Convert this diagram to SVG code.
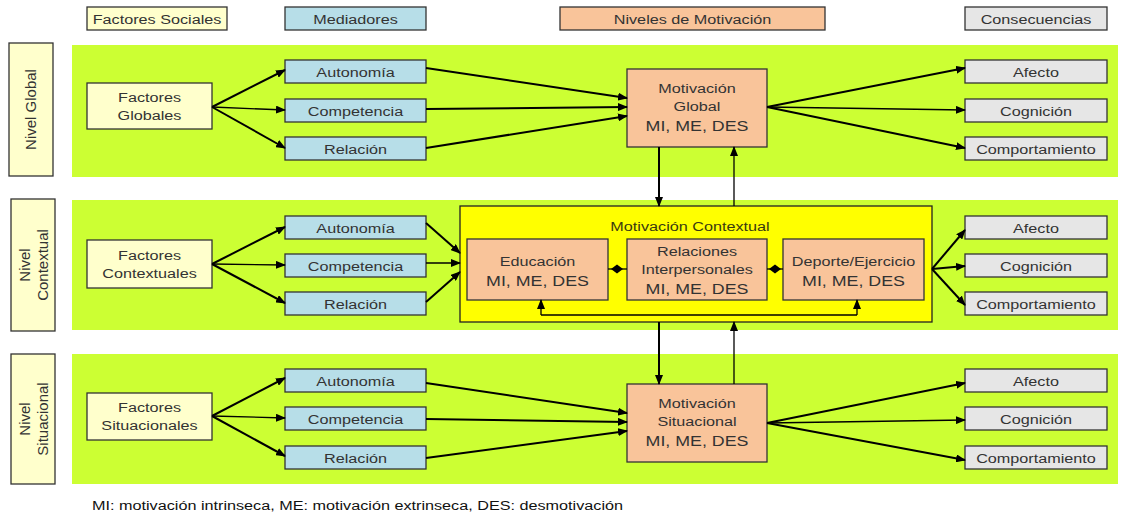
<svg xmlns="http://www.w3.org/2000/svg" width="1121" height="515" viewBox="0 0 1121 515">
<defs>
<marker id="ah" markerWidth="10" markerHeight="8" refX="9" refY="4" orient="auto" markerUnits="userSpaceOnUse"><path d="M0,0 L10,4 L0,8 Z" fill="#000"/></marker>
<style>
.band{fill:#CCFF33}
.box{stroke:#333;stroke-width:1.3}
.fs{fill:#FFFFCC}
.med{fill:#B7DEE8}
.mot{fill:#F9C49A}
.con{fill:#E6E6E6}
.yel{fill:#FFFF00;stroke:#222;stroke-width:1.3}
text{font-family:"Liberation Sans",Arial,sans-serif;font-size:13.5px;fill:#333;text-anchor:middle}
.big{font-size:15.5px}
.leg{text-anchor:start;fill:#111}
.c{fill:none;stroke:#000;stroke-width:2}
.t{fill:none;stroke:#000;stroke-width:1.3}
.dia{fill:#000}
</style>
</defs>

<g id="bands">
<rect class="band" x="72" y="45" width="1046" height="132"/>
<rect class="band" x="72" y="200" width="1046" height="130"/>
<rect class="band" x="72" y="354" width="1046" height="130"/>
</g>

<g id="header-factores-sociales"><rect class="box fs" x="87" y="7" width="140" height="23"/><text transform="translate(157 23.5) scale(1.2 1)">Factores Sociales</text></g>
<g id="header-mediadores"><rect class="box med" x="285" y="7" width="141" height="23"/><text transform="translate(355.5 23.5) scale(1.2 1)">Mediadores</text></g>
<g id="header-niveles"><rect class="box mot" x="560" y="7" width="265" height="23"/><text transform="translate(692.5 23.5) scale(1.2 1)">Niveles de Motivación</text></g>
<g id="header-consecuencias"><rect class="box con" x="965" y="7" width="142" height="23"/><text transform="translate(1036 23.5) scale(1.2 1)">Consecuencias</text></g>

<g id="label-global"><rect class="box fs" x="9" y="43" width="44" height="133"/><text transform="translate(36 109.5) rotate(-90)" style="font-size:15px">Nivel Global</text></g>
<g id="label-contextual"><rect class="box fs" x="11" y="199" width="44" height="132"/><text transform="translate(30 265) rotate(-90)" style="font-size:15px">Nivel</text><text transform="translate(48 265) rotate(-90)" style="font-size:15px">Contextual</text></g>
<g id="label-situacional"><rect class="box fs" x="11" y="354" width="44" height="130"/><text transform="translate(30 419) rotate(-90)" style="font-size:15px">Nivel</text><text transform="translate(48 419) rotate(-90)" style="font-size:15px">Situacional</text></g>

<!-- Global level -->
<g id="factores-globales"><rect class="box fs" x="87" y="83" width="125" height="46"/><text transform="translate(149.5 102) scale(1.2 1)">Factores</text><text transform="translate(149.5 120) scale(1.2 1)">Globales</text></g>
<g id="g-autonomia"><rect class="box med" x="285" y="60" width="141" height="23"/><text transform="translate(355.5 76.5) scale(1.2 1)">Autonomía</text></g>
<g id="g-competencia"><rect class="box med" x="285" y="99" width="141" height="23"/><text transform="translate(355.5 115.5) scale(1.2 1)">Competencia</text></g>
<g id="g-relacion"><rect class="box med" x="285" y="137" width="141" height="23"/><text transform="translate(355.5 153.5) scale(1.2 1)">Relación</text></g>
<g id="motivacion-global"><rect class="box mot" x="627" y="69" width="140" height="78"/><text transform="translate(697 93) scale(1.2 1)">Motivación</text><text transform="translate(697 111) scale(1.2 1)">Global</text><text class="big" transform="translate(697 131) scale(1.15 1)">MI, ME, DES</text></g>
<g id="g-afecto"><rect class="box con" x="965" y="60" width="142" height="23"/><text transform="translate(1036 76.5) scale(1.2 1)">Afecto</text></g>
<g id="g-cognicion"><rect class="box con" x="965" y="99" width="142" height="23"/><text transform="translate(1036 115.5) scale(1.2 1)">Cognición</text></g>
<g id="g-comportamiento"><rect class="box con" x="965" y="137" width="142" height="23"/><text transform="translate(1036 153.5) scale(1.2 1)">Comportamiento</text></g>

<!-- Contextual level -->
<g id="factores-contextuales"><rect class="box fs" x="87" y="240" width="125" height="48"/><text transform="translate(149.5 260) scale(1.2 1)">Factores</text><text transform="translate(149.5 278) scale(1.2 1)">Contextuales</text></g>
<g id="c-autonomia"><rect class="box med" x="285" y="216" width="141" height="23"/><text transform="translate(355.5 232.5) scale(1.2 1)">Autonomía</text></g>
<g id="c-competencia"><rect class="box med" x="285" y="254" width="141" height="23"/><text transform="translate(355.5 270.5) scale(1.2 1)">Competencia</text></g>
<g id="c-relacion"><rect class="box med" x="285" y="292" width="141" height="23"/><text transform="translate(355.5 308.5) scale(1.2 1)">Relación</text></g>
<g id="motivacion-contextual"><rect class="yel" x="460" y="206" width="472" height="116"/><text transform="translate(690 231) scale(1.2 1)" style="fill:#3a3a10">Motivación Contextual</text></g>
<g id="educacion"><rect class="box mot" x="467" y="239" width="141" height="61"/><text transform="translate(537.5 266) scale(1.2 1)">Educación</text><text class="big" transform="translate(537.5 286) scale(1.15 1)">MI, ME, DES</text></g>
<g id="relaciones"><rect class="box mot" x="627" y="239" width="140" height="61"/><text transform="translate(697 256) scale(1.2 1)">Relaciones</text><text transform="translate(697 274) scale(1.2 1)">Interpersonales</text><text class="big" transform="translate(697 294) scale(1.15 1)">MI, ME, DES</text></g>
<g id="deporte"><rect class="box mot" x="783" y="239" width="141" height="61"/><text transform="translate(853.5 266) scale(1.2 1)">Deporte/Ejercicio</text><text class="big" transform="translate(853.5 286) scale(1.15 1)">MI, ME, DES</text></g>
<g id="c-afecto"><rect class="box con" x="965" y="216" width="142" height="23"/><text transform="translate(1036 232.5) scale(1.2 1)">Afecto</text></g>
<g id="c-cognicion"><rect class="box con" x="965" y="254" width="142" height="23"/><text transform="translate(1036 270.5) scale(1.2 1)">Cognición</text></g>
<g id="c-comportamiento"><rect class="box con" x="965" y="292" width="142" height="23"/><text transform="translate(1036 308.5) scale(1.2 1)">Comportamiento</text></g>

<!-- Situational level -->
<g id="factores-situacionales"><rect class="box fs" x="87" y="393" width="125" height="47"/><text transform="translate(149.5 412) scale(1.2 1)">Factores</text><text transform="translate(149.5 430) scale(1.2 1)">Situacionales</text></g>
<g id="s-autonomia"><rect class="box med" x="285" y="369" width="141" height="23"/><text transform="translate(355.5 385.5) scale(1.2 1)">Autonomía</text></g>
<g id="s-competencia"><rect class="box med" x="285" y="407" width="141" height="23"/><text transform="translate(355.5 423.5) scale(1.2 1)">Competencia</text></g>
<g id="s-relacion"><rect class="box med" x="285" y="446" width="141" height="23"/><text transform="translate(355.5 462.5) scale(1.2 1)">Relación</text></g>
<g id="motivacion-situacional"><rect class="box mot" x="627" y="384" width="140" height="78"/><text transform="translate(697 408) scale(1.2 1)">Motivación</text><text transform="translate(697 426) scale(1.2 1)">Situacional</text><text class="big" transform="translate(697 446) scale(1.15 1)">MI, ME, DES</text></g>
<g id="s-afecto"><rect class="box con" x="965" y="369" width="142" height="23"/><text transform="translate(1036 385.5) scale(1.2 1)">Afecto</text></g>
<g id="s-cognicion"><rect class="box con" x="965" y="407" width="142" height="23"/><text transform="translate(1036 423.5) scale(1.2 1)">Cognición</text></g>
<g id="s-comportamiento"><rect class="box con" x="965" y="446" width="142" height="23"/><text transform="translate(1036 462.5) scale(1.2 1)">Comportamiento</text></g>

<g id="connectors">
<!-- global -->
<path class="c" d="M212,107 L285,70" marker-end="url(#ah)"/>
<path class="t" d="M212,107 L285,110" marker-end="url(#ah)"/>
<path class="c" d="M212,107 L285,148" marker-end="url(#ah)"/>
<path class="c" d="M426,68 L627,98" marker-end="url(#ah)"/>
<path class="c" d="M426,109 L627,107" marker-end="url(#ah)"/>
<path class="c" d="M426,148 L627,116" marker-end="url(#ah)"/>
<path class="c" d="M767,107 L965,68" marker-end="url(#ah)"/>
<path class="t" d="M767,107 L965,110" marker-end="url(#ah)"/>
<path class="c" d="M767,107 L965,148" marker-end="url(#ah)"/>
<path class="c" d="M659,147 L659,206" marker-end="url(#ah)"/>
<path class="t" d="M734,206 L734,147" marker-end="url(#ah)"/>
<!-- contextual -->
<path class="c" d="M212,264 L285,227" marker-end="url(#ah)"/>
<path class="t" d="M212,264 L285,265" marker-end="url(#ah)"/>
<path class="c" d="M212,264 L285,303" marker-end="url(#ah)"/>
<path class="c" d="M426,223 L460,253" marker-end="url(#ah)"/>
<path class="t" d="M426,263 L460,263" marker-end="url(#ah)"/>
<path class="c" d="M426,302 L460,272" marker-end="url(#ah)"/>
<path class="c" d="M932,269 L965,230" marker-end="url(#ah)"/>
<path class="c" d="M932,269 L965,266" marker-end="url(#ah)"/>
<path class="c" d="M932,269 L965,305" marker-end="url(#ah)"/>
<path class="t" d="M608,269 L627,269"/>
<path class="dia" d="M611,269 L617,264.5 L623,269 L617,273.5 Z"/>
<path class="t" d="M767,269 L783,269"/>
<path class="dia" d="M769,269 L775,264.5 L781,269 L775,273.5 Z"/>
<path class="t" d="M541,315 L857,315"/>
<path class="t" d="M541,315 L541,300" marker-end="url(#ah)"/>
<path class="t" d="M857,315 L857,300" marker-end="url(#ah)"/>
<path class="c" d="M659,322 L659,384" marker-end="url(#ah)"/>
<path class="t" d="M734,384 L734,322" marker-end="url(#ah)"/>
<!-- situational -->
<path class="c" d="M212,416 L285,378" marker-end="url(#ah)"/>
<path class="t" d="M212,416 L285,418" marker-end="url(#ah)"/>
<path class="c" d="M212,416 L285,456" marker-end="url(#ah)"/>
<path class="c" d="M426,383 L627,413" marker-end="url(#ah)"/>
<path class="c" d="M426,419 L627,422" marker-end="url(#ah)"/>
<path class="c" d="M426,458 L627,431" marker-end="url(#ah)"/>
<path class="c" d="M767,423 L965,383" marker-end="url(#ah)"/>
<path class="t" d="M767,423 L965,420" marker-end="url(#ah)"/>
<path class="c" d="M767,423 L965,460" marker-end="url(#ah)"/>
</g>

<text class="leg" transform="translate(92 510) scale(1.2 1)">MI: motivación intrinseca, ME: motivación extrinseca, DES: desmotivación</text>
</svg>
